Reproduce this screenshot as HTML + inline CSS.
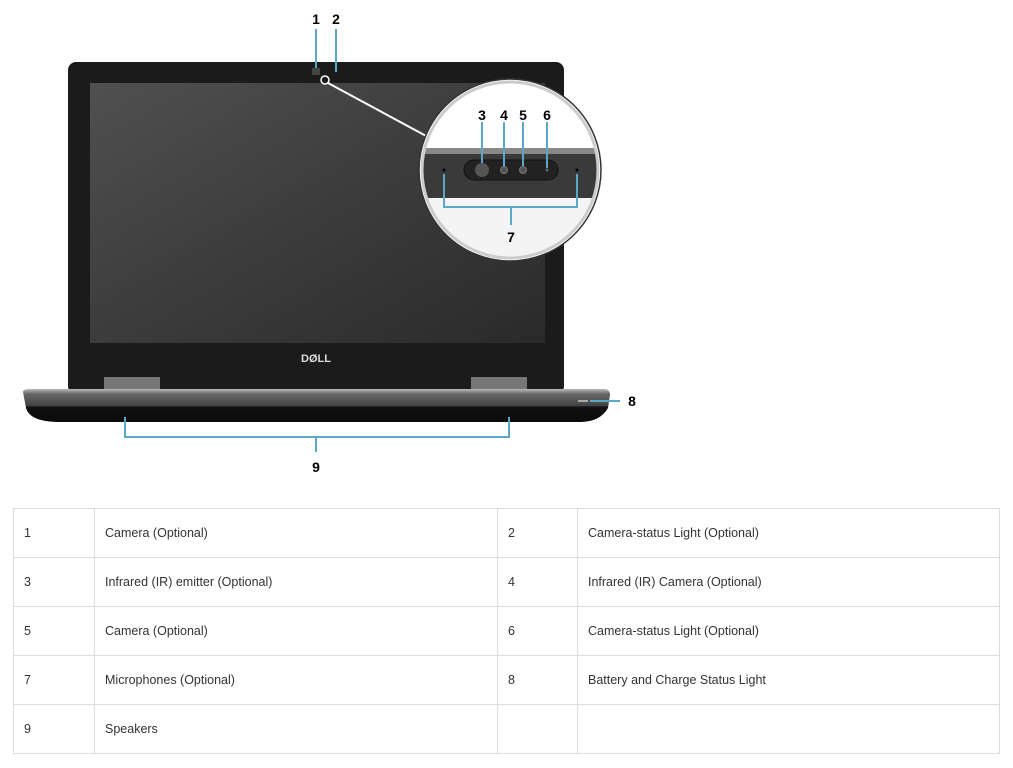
<!DOCTYPE html>
<html><head><style>
body{margin:0;width:1013px;height:768px;background:#fff;overflow:hidden;font-family:"Liberation Sans",sans-serif}
table{position:absolute;left:13px;top:508px;border-collapse:collapse;font-size:12.5px;color:#333}
td{border:1px solid #ddd;height:49px;padding:0 0 0 10px;box-sizing:border-box}
</style></head><body>
<svg width="1013" height="500" style="position:absolute;left:0;top:0" font-family="Liberation Sans" font-weight="bold">
<defs>
<linearGradient id="scr" x1="0" y1="0" x2="1" y2="1"><stop offset="0" stop-color="#505050"/><stop offset="0.5" stop-color="#3c3c3c"/><stop offset="1" stop-color="#2a2a2a"/></linearGradient>
<linearGradient id="base" x1="0" y1="0" x2="0" y2="1"><stop offset="0" stop-color="#bbb"/><stop offset="0.15" stop-color="#666"/><stop offset="0.5" stop-color="#444"/><stop offset="0.55" stop-color="#111"/><stop offset="1" stop-color="#0a0a0a"/></linearGradient>
<clipPath id="cc"><circle cx="510" cy="170" r="87"/></clipPath>
</defs>
<text x="316" y="24" font-size="14" text-anchor="middle">1</text>
<text x="336" y="24" font-size="14" text-anchor="middle">2</text>
<rect x="68" y="62" width="496" height="332" rx="8" fill="#1b1b1b"/>
<rect x="90" y="83" width="455" height="260" fill="url(#scr)"/>
<text x="316" y="362" font-size="11" fill="#ddd" text-anchor="middle">DØLL</text>
<line x1="316" y1="29" x2="316" y2="72" stroke="#5aa7c7" stroke-width="2"/>
<line x1="336" y1="29" x2="336" y2="72" stroke="#5aa7c7" stroke-width="2"/>
<rect x="312" y="68" width="8" height="7" fill="#444"/>
<circle cx="325" cy="80" r="4" fill="none" stroke="#fff" stroke-width="1.5"/>
<line x1="328" y1="83" x2="428" y2="137" stroke="#fff" stroke-width="2"/>
<rect x="104" y="377" width="56" height="15" fill="#777"/>
<rect x="471" y="377" width="56" height="15" fill="#777"/>
<path d="M23 392 Q23 389 30 389 L604 389 Q610 389 610 395 L608 408 Q600 422 580 422 L60 422 Q30 422 26 408 Z" fill="url(#base)"/>
<line x1="578" y1="401" x2="588" y2="401" stroke="#aaa" stroke-width="2"/>
<line x1="590" y1="401" x2="620" y2="401" stroke="#5aa7c7" stroke-width="2"/>
<text x="632" y="406" font-size="14" text-anchor="middle">8</text>
<path d="M125 417 V437 H509 V417 M316 437 V452" fill="none" stroke="#5aa7c7" stroke-width="2"/>
<text x="316" y="472" font-size="14" text-anchor="middle">9</text>
<circle cx="510" cy="170" r="91" fill="#fff" stroke="#333" stroke-width="1.5"/>
<g clip-path="url(#cc)">
<rect x="400" y="80" width="220" height="70" fill="#fff"/>
<rect x="400" y="148" width="220" height="6" fill="#888"/>
<rect x="400" y="154" width="220" height="44" fill="#3a3a3a"/>
<rect x="400" y="198" width="220" height="60" fill="#f4f4f4"/>
<rect x="464" y="160" width="94" height="20" rx="10" fill="#222" stroke="#111"/>
<circle cx="482" cy="170" r="7" fill="#555"/>
<circle cx="504" cy="170" r="3.5" fill="#555" stroke="#777"/>
<circle cx="523" cy="170" r="3.5" fill="#555" stroke="#777"/>
<circle cx="547" cy="170" r="1.5" fill="#666"/>
<circle cx="444" cy="170" r="1.5" fill="#000"/>
<circle cx="577" cy="170" r="1.5" fill="#000"/>
<path d="M444 174 V207 H577 V174 M511 207 V225" fill="none" stroke="#5aa7c7" stroke-width="2"/>
<line x1="482" y1="122" x2="482" y2="163" stroke="#5aa7c7" stroke-width="2"/>
<line x1="504" y1="122" x2="504" y2="166" stroke="#5aa7c7" stroke-width="2"/>
<line x1="523" y1="122" x2="523" y2="166" stroke="#5aa7c7" stroke-width="2"/>
<line x1="547" y1="122" x2="547" y2="168" stroke="#5aa7c7" stroke-width="2"/>
<text x="482" y="120" font-size="14" text-anchor="middle">3</text>
<text x="504" y="120" font-size="14" text-anchor="middle">4</text>
<text x="523" y="120" font-size="14" text-anchor="middle">5</text>
<text x="547" y="120" font-size="14" text-anchor="middle">6</text>
<text x="511" y="242" font-size="14" text-anchor="middle">7</text>
</g>
<circle cx="510" cy="170" r="88" fill="none" stroke="#ccc" stroke-width="3"/>
</svg>
<table>
<tr><td style="width:81px">1</td><td style="width:403px">Camera (Optional)</td><td style="width:80px">2</td><td style="width:422px">Camera-status Light (Optional)</td></tr>
<tr><td>3</td><td>Infrared (IR) emitter (Optional)</td><td>4</td><td>Infrared (IR) Camera (Optional)</td></tr>
<tr><td>5</td><td>Camera (Optional)</td><td>6</td><td>Camera-status Light (Optional)</td></tr>
<tr><td>7</td><td>Microphones (Optional)</td><td>8</td><td>Battery and Charge Status Light</td></tr>
<tr><td>9</td><td>Speakers</td><td></td><td></td></tr>
</table>
</body></html>
